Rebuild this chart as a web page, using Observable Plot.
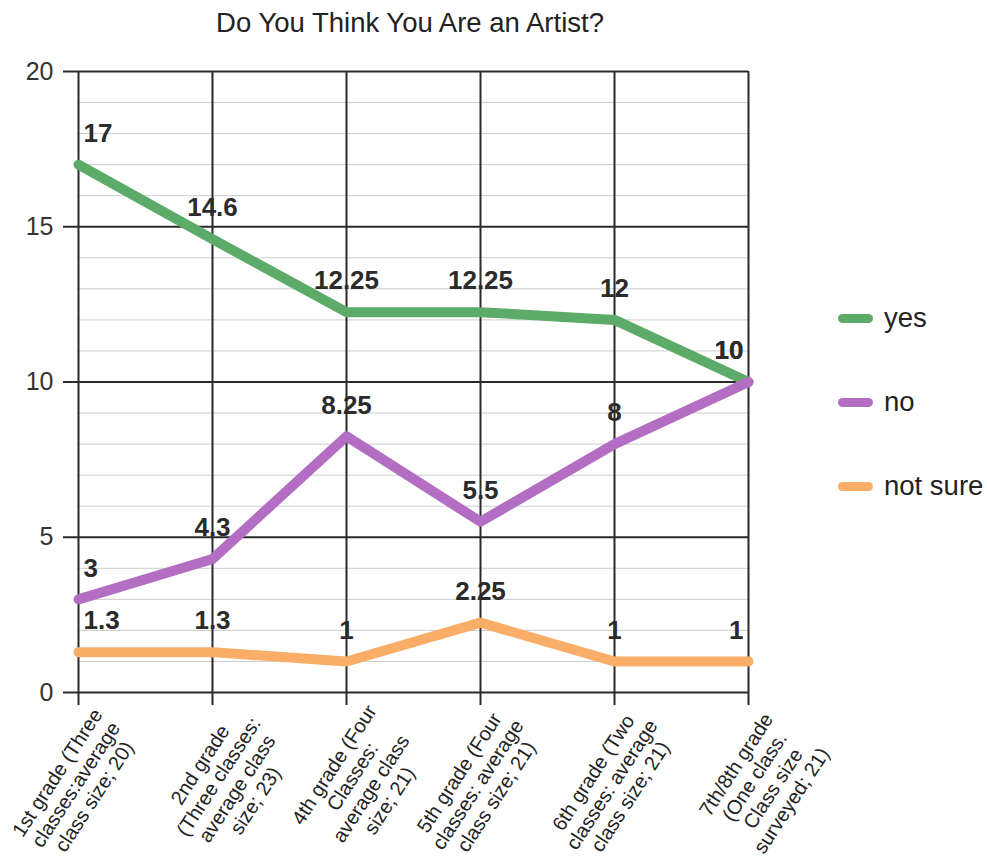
<!DOCTYPE html>
<html><head><meta charset="utf-8">
<script src="https://cdn.jsdelivr.net/npm/d3@7"></script>
<script src="https://cdn.jsdelivr.net/npm/@observablehq/plot@0.6"></script>
<style>
body{margin:0;background:#fff;font-family:"Liberation Sans",Arial,sans-serif;}
#wrap{position:relative;width:987px;height:859px;}
#legend{position:absolute;left:838px;top:276px;}
.item{display:flex;align-items:center;height:84px;font-size:27.5px;color:#222;}
.sw{width:35px;height:9px;border-radius:5px;margin-right:11px;}
</style></head><body>
<div id="wrap"></div>
<script>
const titleText = "Do You Think You Are an Artist?";
const categories = [
  "1st grade (Three\nclasses:average\nclass size; 20)",
  "2nd grade\n(Three classes:\naverage class\nsize; 23)",
  "4th grade (Four\nClasses:\naverage class\nsize; 21)",
  "5th grade (Four\nclasses: average\nclass size; 21)",
  "6th grade (Two\nclasses: average\nclass size; 21)",
  "7th/8th grade\n(One class.\nClass size\nsurveyed; 21)"
];
const yesValues = [17, 14.6, 12.25, 12.25, 12, 10];
const noValues = [3, 4.3, 8.25, 5.5, 8, 10];
const notSureValues = [1.3, 1.3, 1, 2.25, 1, 1];
const seriesNames = ["yes", "no", "not sure"];
const seriesColors = ["#5dab68", "#b36dc3", "#f9ad66"];
const majorTicks = [0, 5, 10, 15, 20];
const minorTicks = [1, 2, 3, 4, 6, 7, 8, 9, 11, 12, 13, 14, 16, 17, 18, 19];

const seriesValues = [yesValues, noValues, notSureValues];
const rows = [];
seriesNames.forEach((s, si) => categories.forEach((c, ci) =>
  rows.push({series: s, cat: c, value: seriesValues[si][ci], idx: ci})));
const last = categories.length - 1;
const lineCount = c => c.split("\n").length;
const labelStyle = {x: "cat", y: "value", text: d => String(d.value), dy: -31, fontSize: 26, fontWeight: "bold", fill: "#2b2b2b", lineAnchor: "middle"};
const xLabelStyle = {x: d => d, frameAnchor: "bottom", text: d => d, rotate: -57, textAnchor: "middle", lineAnchor: "middle", lineHeight: 1.1, fontSize: 20, fill: "#222"};

const chart = Plot.plot({
  width: 987, height: 859,
  marginTop: 71, marginBottom: 167, marginLeft: 77, marginRight: 239,
  style: {fontFamily: "Liberation Sans, Arial, sans-serif", background: "#fff", color: "#222"},
  x: {type: "point", domain: categories, padding: 0},
  y: {domain: [0, 20]},
  color: {domain: seriesNames, range: seriesColors},
  marks: [
    Plot.ruleY(minorTicks, {stroke: "#cccccc", strokeWidth: 1}),
    Plot.ruleY(majorTicks, {stroke: "#2a2a2a", strokeWidth: 2}),
    Plot.ruleX(categories, {stroke: "#2a2a2a", strokeWidth: 2}),
    Plot.axisY({ticks: majorTicks, tickSize: 14, tickPadding: 10, fontSize: 25, label: null, stroke: "#2a2a2a", strokeWidth: 2, fill: "#333"}),
    Plot.axisX({ticks: categories, tickSize: 13, tickFormat: () => "", label: null, stroke: "#2a2a2a", strokeWidth: 2}),
    Plot.line(rows, {x: "cat", y: "value", z: "series", stroke: "series", strokeWidth: 10, strokeLinecap: "round", strokeLinejoin: "round"}),
    Plot.text(rows.filter(d => d.idx === 0), {...labelStyle, textAnchor: "start", dx: 5}),
    Plot.text(rows.filter(d => d.idx > 0 && d.idx < last), {...labelStyle, textAnchor: "middle"}),
    Plot.text(rows.filter(d => d.idx === last), {...labelStyle, textAnchor: "end", dx: -5}),
    Plot.text(categories.filter(c => lineCount(c) === 3), {...xLabelStyle, dx: -3, dy: 92}),
    Plot.text(categories.filter(c => lineCount(c) === 4), {...xLabelStyle, dx: 15, dy: 90}),
    Plot.text([titleText], {frameAnchor: "top", text: d => d, dx: -3, dy: -48, fontSize: 27.5, fill: "#222", lineAnchor: "middle"})
  ]
});
const wrap = document.getElementById("wrap");
wrap.appendChild(chart);
const legend = document.createElement("div");
legend.id = "legend";
seriesNames.forEach((s, i) => {
  const item = document.createElement("div");
  item.className = "item";
  const sw = document.createElement("div");
  sw.className = "sw";
  sw.style.background = seriesColors[i];
  const t = document.createElement("span");
  t.textContent = s;
  item.appendChild(sw); item.appendChild(t);
  legend.appendChild(item);
});
wrap.appendChild(legend);
</script>
</body></html>
